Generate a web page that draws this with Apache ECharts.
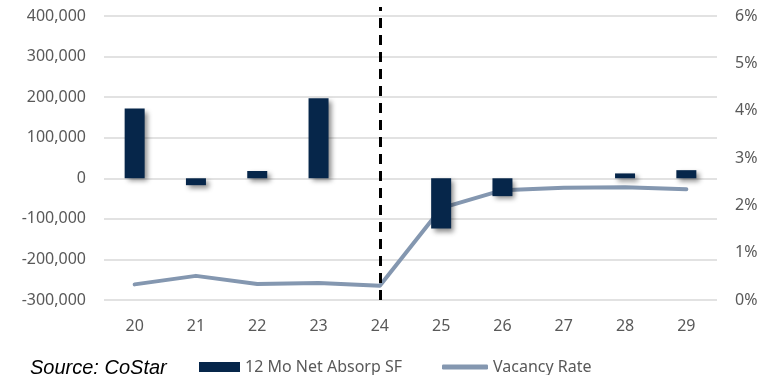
<!DOCTYPE html>
<html>
<head>
<meta charset="utf-8">
<script src="https://cdn.jsdelivr.net/npm/echarts@6/dist/echarts.min.js"></script>
<style>
html,body{margin:0;padding:0;background:#fff;}
#chart{width:772px;height:375px;}
</style>
</head>
<body>
<div id="chart"></div>
<script>
const categories = ['20','21','22','23','24','25','26','27','28','29'];
const netAbsorp = [172000, -17000, 18000, 197000, 0, -124000, -44000, 0, 12000, 20000];
const vacancyRate = [0.33, 0.51, 0.34, 0.36, 0.30, 1.94, 2.32, 2.37, 2.38, 2.34];
const markerCategory = '24';
const sourceText = 'Source: CoStar';

const labelFont = {fontFamily: 'Noto Sans', fontSize: 16, color: '#595959'};

const chart = echarts.init(document.getElementById('chart'), null, {renderer: 'canvas'});
chart.setOption({
  animation: false,
  backgroundColor: '#ffffff',
  title: {
    text: sourceText,
    left: 25, top: 353,
    textStyle: {fontFamily: 'Liberation Sans', fontStyle: 'italic', fontWeight: 'normal', fontSize: 20, color: '#000'}
  },
  legend: [
    {data: ['12 Mo Net Absorp SF'], left: 194, top: 354, itemWidth: 41, itemHeight: 10, icon: 'rect',
     textStyle: labelFont},
    {data: ['Vacancy Rate'], left: 437, top: 354, itemWidth: 46, itemHeight: 5, icon: 'roundRect',
     textStyle: labelFont}
  ],
  grid: [
    {left: 104, right: 55, top: 16, bottom: 75},
    {left: 104, right: 55, top: 7, bottom: 75}
  ],
  xAxis: [
    {type: 'category', data: categories, gridIndex: 0,
     axisLine: {show: false}, axisTick: {show: false},
     axisLabel: Object.assign({margin: 18}, labelFont)},
    {type: 'category', data: categories, gridIndex: 1, show: false}
  ],
  yAxis: [
    {type: 'value', gridIndex: 0, min: -300000, max: 400000, interval: 100000,
     axisLine: {show: false}, axisTick: {show: false},
     splitLine: {lineStyle: {color: '#d9d9d9', width: 1.5}},
     axisLabel: Object.assign({margin: 18, formatter: v => v.toLocaleString('en-US')}, labelFont)},
    {type: 'value', gridIndex: 0, position: 'right', min: 0, max: 6, interval: 1,
     axisLine: {show: false}, axisTick: {show: false}, splitLine: {show: false},
     axisLabel: Object.assign({margin: 18, formatter: '{value}%'}, labelFont)},
    {type: 'value', gridIndex: 1, min: 0, max: 1, show: false}
  ],
  series: [
    {name: 'Vacancy Rate', type: 'line', xAxisIndex: 0, yAxisIndex: 1, data: vacancyRate,
     color: '#8497B0', symbol: 'none', z: 1,
     lineStyle: {width: 4, color: '#8497B0', cap: 'round', join: 'round'}},
    {name: '12 Mo Net Absorp SF', type: 'bar', xAxisIndex: 0, yAxisIndex: 0, data: netAbsorp,
     barWidth: 20, color: '#06264a', z: 2,
     itemStyle: {color: '#06264a', shadowColor: 'rgba(0,0,0,0.45)', shadowBlur: 5, shadowOffsetX: 3, shadowOffsetY: 3}},
    {name: 'marker', type: 'line', xAxisIndex: 1, yAxisIndex: 2, data: categories.map(() => null),
     symbol: 'none', z: 5, silent: true,
     markLine: {symbol: 'none', silent: true, label: {show: false},
       lineStyle: {color: '#000', width: 3, type: [10, 7]},
       data: [{xAxis: markerCategory}]}}
  ]
});
</script>
</body>
</html>
